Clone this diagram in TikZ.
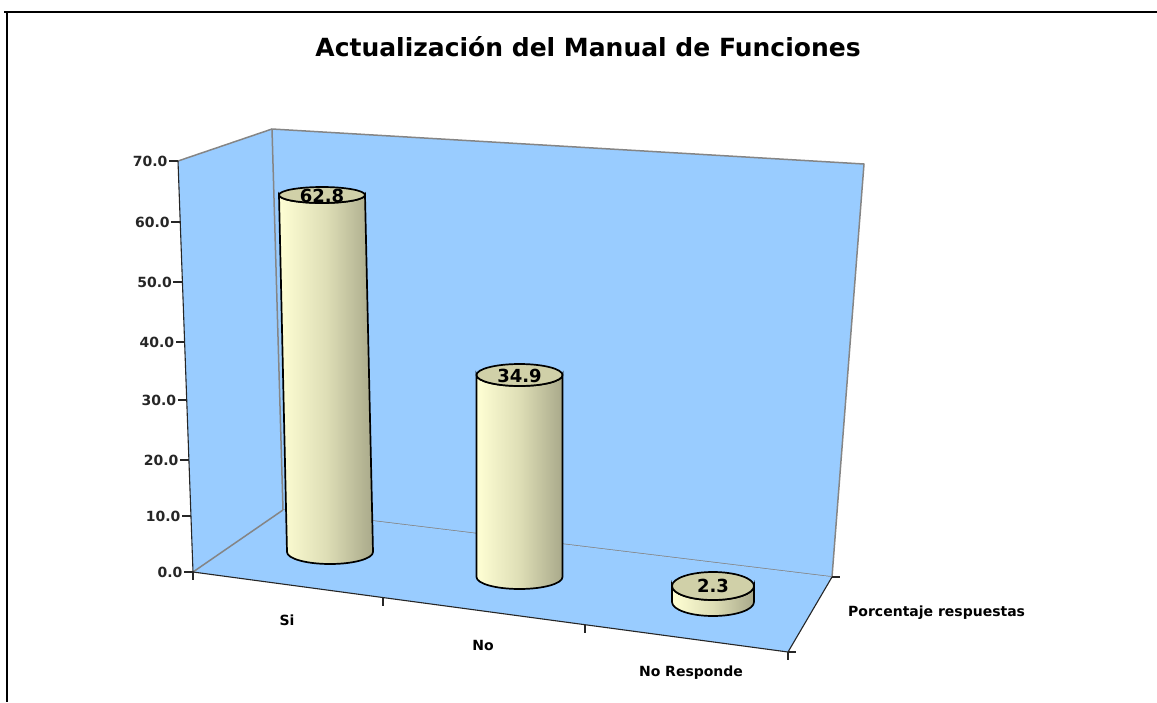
\documentclass[tikz,border=0pt]{standalone}
\usepackage{fontspec}
\setmainfont{DejaVu Sans}
\usepackage{xcolor}
\usetikzlibrary{positioning}
\definecolor{wallblue}{HTML}{99CCFF}
\definecolor{edgegray}{HTML}{858585}
\definecolor{cylleft}{HTML}{FFFFD4}
\definecolor{cylmid}{HTML}{DEDEB6}
\definecolor{cylright}{HTML}{A9A98A}
\definecolor{cyltop}{HTML}{D0D0A8}

\begin{document}
\begin{tikzpicture}[x=1pt,y=-1pt,
  wall/.style={fill=wallblue, draw=edgegray, line width=1.5pt, line join=round},
  axisline/.style={line width=1.1pt, black!85},
  ticklabel/.style={font=\bfseries\fontsize{14}{14}\selectfont, anchor=east, inner sep=1pt},
  catlabel/.style={font=\bfseries\fontsize{14}{14}\selectfont, inner sep=0pt},
  barlabel/.style={font=\bfseries\fontsize{18}{18}\selectfont, inner sep=0pt},
  cylbody/.style={draw=black, line width=1.7pt, left color=cylleft, right color=cylright, middle color=cylmid},
  cylcap/.style={fill=cyltop, draw=black, line width=1.7pt}]
\useasboundingbox (0,0) rectangle (1157,702);

% frame
\draw [line width = 2pt] (4,12) -- (1157,12) ;
\draw [line width = 2pt] (7,12) -- (7,702) ;
\node[font=\bfseries\fontsize{25}{25}\selectfont] (title) at (588,47) {Actualización del Manual de Funciones};

% walls and floor
\coordinate (lwFront) at (178,161);
\coordinate (lwBack)  at (272,129);
\coordinate (bwRight) at (864,164);
\coordinate (flBack)  at (283,510);
\coordinate (flRight) at (832,577);
\coordinate (flOrig)  at (193,572);
\coordinate (flFront) at (788,652);
\fill [wallblue] (lwFront) -- (lwBack) -- (flBack) -- (flOrig) -- cycle;
\draw [wall] (lwBack) -- (bwRight) -- (flRight) -- (flBack) -- cycle;
\fill [wallblue] (flOrig) -- (flBack) -- (flRight) -- (flFront) -- cycle;
\draw [edgegray, line width = 1.5pt] (lwFront) -- (lwBack) ;
\draw [edgegray, line width = 1.5pt] (flBack) -- (flOrig) ;
\draw [axisline] (lwFront) -- (flOrig) -- (flFront) -- (flRight) ;

% value axis
\foreach \y/\t in {572/0.0, 516/10.0, 460/20.0, 400/30.0, 342/40.0, 282/50.0, 222/60.0, 161/70.0}
  \draw [axisline] ({193-15*(572-\y)/411},\y) -- ++(-9,0) node[ticklabel] (yl\y) {\t};

% category axis
\draw [axisline] (flOrig) -- ++(0,8) ;
\draw [axisline] (383,597.5) -- ++(0,8) ;
\draw [axisline] (585,624.7) -- ++(0,8) ;
\draw [axisline] (flFront) -- ++(0,8) ;
\draw [axisline] (flFront) -- ++(8,0) ;
\draw [axisline] (flRight) -- ++(8,0) ;
\node[catlabel] (catSi) at (287,620) {Si};
\node[catlabel] (catNo) at (483,645) {No};
\node[catlabel] (catNR) at (691,673) {No Responde};
\node[catlabel, anchor=west] (series) at (848,613) {Porcentaje respuestas};

% cylinders
\shadedraw [cylbody] (279,195) -- (287,552) arc[start angle=180, end angle=0, x radius=43, y radius=12] -- (365,195) arc[start angle=0, end angle=180, x radius=43, y radius=8] -- cycle;
\draw [cylcap] (322,195) ellipse [x radius=43, y radius=8];
\node[barlabel] (valSi) at (322,196) {62.8};

\shadedraw [cylbody] (476.5,375) -- (476.5,577) arc[start angle=180, end angle=0, x radius=43, y radius=12] -- (562.5,375) arc[start angle=0, end angle=180, x radius=43, y radius=11] -- cycle;
\draw [cylcap] (519.5,375) ellipse [x radius=43, y radius=11];
\node[barlabel] (valNo) at (519.5,376) {34.9};

\shadedraw [cylbody] (672,586) -- (672,602) arc[start angle=180, end angle=0, x radius=41, y radius=14] -- (754,586) arc[start angle=0, end angle=180, x radius=41, y radius=14] -- cycle;
\draw [cylcap] (713,586) ellipse [x radius=41, y radius=14];
\node[barlabel] (valNR) at (713,586) {2.3};
\end{tikzpicture}
\end{document}
